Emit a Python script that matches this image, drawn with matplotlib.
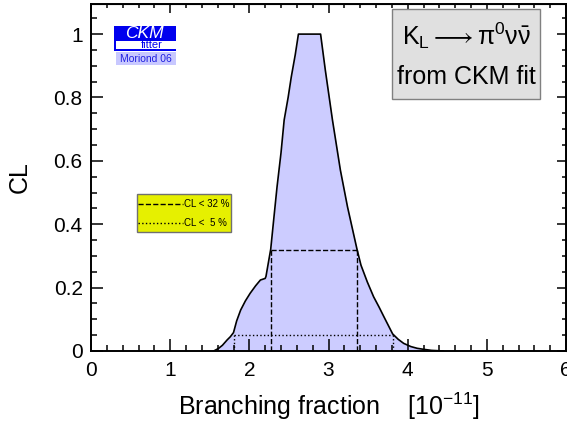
import matplotlib
matplotlib.use("Agg")
import matplotlib.pyplot as plt
from matplotlib.patches import Rectangle
from matplotlib.ticker import MultipleLocator, FuncFormatter

plt.rcParams['font.family'] = ['Liberation Sans', 'DejaVu Sans']
plt.rcParams['mathtext.fontset'] = 'custom'
plt.rcParams['mathtext.rm'] = 'Liberation Sans'
plt.rcParams['mathtext.it'] = 'Liberation Sans:italic'

# CL profile (branching fraction in 1e-11)
bf = [1.55, 1.61, 1.66, 1.72, 1.76, 1.80, 1.84, 1.89, 1.95, 2.01, 2.08, 2.14, 2.20,
      2.21, 2.27, 2.31, 2.35, 2.40, 2.44, 2.49, 2.53, 2.58, 2.62, 2.90, 2.96, 3.05, 3.15,
      3.24, 3.36, 3.41, 3.49, 3.57, 3.64, 3.70, 3.81, 3.88, 3.95, 4.04, 4.12,
      4.21, 4.30, 4.45]
cl = [0.0, 0.008, 0.018, 0.035, 0.045, 0.058, 0.095, 0.129, 0.158, 0.182, 0.206, 0.224, 0.229,
      0.235, 0.321, 0.42, 0.518, 0.625, 0.729, 0.80, 0.865, 0.935, 1.0, 1.0, 0.886, 0.729, 0.571,
      0.455, 0.321, 0.271, 0.218, 0.171, 0.138, 0.108, 0.054, 0.037, 0.024, 0.014, 0.0085,
      0.005, 0.002, 0.0]

# confidence intervals
levels = [0.32, 0.05]
lo = [2.27, 1.80]
hi = [3.36, 3.81]
styles = ['--', ':']
leg_labels = ['CL < 32 %', 'CL <  5 %']

fig = plt.figure(figsize=(5.67, 4.24), dpi=100)
ax = fig.add_axes([91 / 567, 1 - 351 / 424, 475 / 567, 347 / 424])

ax.fill_between(bf, cl, 0, color='#CCCCFF', lw=0)
ax.plot(bf, cl, color='black', lw=1.2)

for lev, a, b, ls in zip(levels, lo, hi, styles):
    ax.plot([a, b], [lev, lev], ls=ls, color='black', lw=1)
    ax.plot([a, a], [0, lev], ls=ls, color='black', lw=1)
    ax.plot([b, b], [0, lev], ls=ls, color='black', lw=1)

ax.set_xlim(0, 6)
ax.set_ylim(0, 1.095)
ax.xaxis.set_major_locator(MultipleLocator(1))
ax.xaxis.set_minor_locator(MultipleLocator(0.2))
ax.yaxis.set_major_locator(MultipleLocator(0.2))
ax.yaxis.set_minor_locator(MultipleLocator(0.05))
ax.yaxis.set_major_formatter(FuncFormatter(lambda v, p: '%g' % round(v, 2)))
ax.tick_params(which='both', direction='in', width=1.1, labelsize=15)
ax.tick_params(which='major', length=8.5, pad=6)
ax.tick_params(which='minor', length=4.5)
ax.tick_params(axis='x', pad=7)
for s in ax.spines.values():
    s.set_linewidth(1.4)

# shorter ticks on top and right
top = ax.secondary_xaxis('top')
top.xaxis.set_major_locator(MultipleLocator(1))
top.xaxis.set_minor_locator(MultipleLocator(0.2))
top.tick_params(which='both', direction='in', width=1.1, labeltop=False)
top.tick_params(which='major', length=6.5)
top.tick_params(which='minor', length=3)
right = ax.secondary_yaxis('right')
right.yaxis.set_major_locator(MultipleLocator(0.2))
right.yaxis.set_minor_locator(MultipleLocator(0.05))
right.tick_params(which='both', direction='in', width=1.1, labelright=False)
right.tick_params(which='major', length=6.5)
right.tick_params(which='minor', length=3)

ax.set_xlabel(r'Branching fraction    [10$^{-11}$]', fontsize=18, labelpad=8)
ax.set_ylabel('CL', fontsize=18, labelpad=16)

# title box
ax.add_patch(Rectangle((0.634, 0.726), 0.311, 0.26, transform=ax.transAxes,
                       facecolor='#E0E0E0', edgecolor='#808080', lw=1, zorder=5))
ax.text(0.79, 0.91, r'$\mathrm{K_L \longrightarrow \pi^0 \nu\bar{\nu}}$', transform=ax.transAxes,
        ha='center', va='center', fontsize=18, zorder=6)
ax.text(0.79, 0.79, 'from CKM fit', transform=ax.transAxes,
        ha='center', va='center', fontsize=18, zorder=6)

# legend box
ax.add_patch(Rectangle((0.0975, 0.342), 0.1975, 0.11, transform=ax.transAxes,
                       facecolor='#E6F000', edgecolor='#707070', lw=1, zorder=5))
for yy, ls, lab in zip([0.424, 0.37], styles, leg_labels):
    ax.plot([0.099, 0.193], [yy, yy], ls=ls, color='black', lw=1,
            transform=ax.transAxes, zorder=6)
    ax.text(0.195, yy, lab, transform=ax.transAxes, ha='left', va='center',
            fontsize=7, zorder=6)

# CKMfitter logo
ax.add_patch(Rectangle((0.049, 0.8646), 0.13, 0.072, transform=ax.transAxes,
                       facecolor='#0000EE', edgecolor='none', zorder=5))
ax.add_patch(Rectangle((0.052, 0.871), 0.127, 0.021, transform=ax.transAxes,
                       facecolor='white', edgecolor='none', zorder=6))
ax.text(0.112, 0.914, 'CKM', transform=ax.transAxes, ha='center', va='center',
        fontsize=12.5, style='italic', color='white', zorder=7)
ax.text(0.128, 0.881, 'fitter', transform=ax.transAxes, ha='center', va='center',
        fontsize=8, color='#0000EE', zorder=7)
ax.add_patch(Rectangle((0.0535, 0.824), 0.1255, 0.0375, transform=ax.transAxes,
                       facecolor='#C8C8FF', edgecolor='none', zorder=5))
ax.text(0.116, 0.8425, 'Moriond 06', transform=ax.transAxes, ha='center', va='center',
        fontsize=7.5, color='#2020E0', zorder=6)

fig.savefig('out.png', dpi=100)
